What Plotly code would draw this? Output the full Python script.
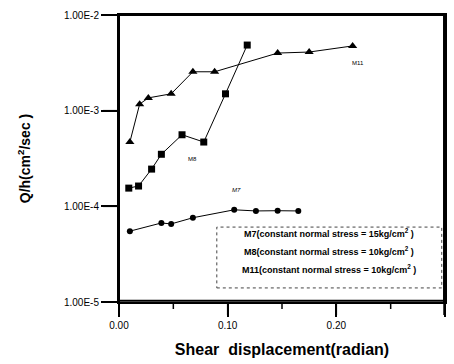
import math
import plotly.graph_objects as go

# Shear displacement (radian) and flow rate Q/h (cm^2/sec)
m7_x = [0.010, 0.039, 0.048, 0.068, 0.106, 0.126, 0.146, 0.165]
m7_y = [5.5e-5, 6.7e-5, 6.55e-5, 7.6e-5, 9.2e-5, 8.95e-5, 9.0e-5, 8.95e-5]

m8_x = [0.009, 0.018, 0.030, 0.039, 0.058, 0.078, 0.098, 0.118]
m8_y = [1.55e-4, 1.63e-4, 2.45e-4, 3.5e-4, 5.6e-4, 4.7e-4, 1.5e-3, 4.85e-3]

m11_x = [0.010, 0.019, 0.027, 0.048, 0.068, 0.088, 0.146, 0.175, 0.215]
m11_y = [4.7e-4, 1.17e-3, 1.36e-3, 1.5e-3, 2.55e-3, 2.55e-3, 4.0e-3, 4.1e-3, 4.75e-3]

y_tickvals = [1e-5, 1e-4, 1e-3, 1e-2]
y_ticktext = ["1.00E-5", "1.00E-4", "1.00E-3", "1.00E-2"]
x_tickvals = [0.0, 0.1, 0.2, 0.3]
x_ticktext = ["0.00", "0.10", "0.20", "0.30"]
x_minor = [0.05, 0.15, 0.25]

legend_lines = [
    "M7(constant normal stress = 15kg/cm<sup>2</sup> )",
    "M8(constant normal stress = 10kg/cm<sup>2</sup> )",
    "M11(constant normal stress = 10kg/cm<sup>2</sup> )",
]

FONT = "Liberation Sans, Arial, sans-serif"
X_RANGE = [0, 0.3]
Y_RANGE = [-5, -2]  # log10 decades
W, H = 454, 364
ML, MR, MT, MB = 119, 7, 15, 62
PW, PH = W - ML - MR, H - MT - MB

fig = go.Figure()
fig.add_trace(go.Scatter(x=m7_x, y=m7_y, mode="lines+markers",
                         line=dict(color="black", width=1),
                         marker=dict(symbol="circle", size=6, color="black")))
fig.add_trace(go.Scatter(x=m8_x, y=m8_y, mode="lines+markers",
                         line=dict(color="black", width=1),
                         marker=dict(symbol="square", size=7, color="black")))
fig.add_trace(go.Scatter(x=m11_x, y=m11_y, mode="lines+markers",
                         line=dict(color="black", width=1),
                         marker=dict(symbol="triangle-up", size=8, color="black")))

# Series labels (annotation y is log10 on a log axis)
fig.add_annotation(x=0.220, y=-2.50, text="M11", showarrow=False,
                   xref="x", yref="y", font=dict(family=FONT, size=6, color="black"))
fig.add_annotation(x=0.068, y=-3.505, text="M8", showarrow=False,
                   xref="x", yref="y", font=dict(family=FONT, size=6, color="black"))
fig.add_annotation(x=0.108, y=-3.83, text="<i>M7</i>", showarrow=False,
                   xref="x", yref="y", font=dict(family=FONT, size=6, color="black"))

# Plot frame, in the lower shape layer
frame = dict(color="black", width=2)
fig.add_shape(type="line", xref="paper", yref="paper", x0=0, x1=0, y0=0, y1=1, line=frame, layer="below")
fig.add_shape(type="line", xref="paper", yref="paper", x0=0, x1=1, y0=1, y1=1, line=frame, layer="below")
fig.add_shape(type="line", xref="paper", yref="paper", x0=0.997, x1=0.997, y0=0, y1=1, line=frame, layer="below")
fig.add_shape(type="line", xref="paper", yref="paper", x0=0, x1=1, y0=0.004, y1=0.004, line=frame, layer="below")


def xfrac(v):
    return (v - X_RANGE[0]) / (X_RANGE[1] - X_RANGE[0])


def yfrac(v):
    return (math.log10(v) - Y_RANGE[0]) / (Y_RANGE[1] - Y_RANGE[0])


# Outward tick marks along the frame
tick = dict(color="black", width=1.5)
for v in x_tickvals:
    f = min(xfrac(v), 0.997)
    fig.add_shape(type="line", xref="paper", yref="paper", x0=f, x1=f,
                  y0=0, y1=-13 / PH, line=tick, layer="below")
for v in x_minor:
    f = xfrac(v)
    fig.add_shape(type="line", xref="paper", yref="paper", x0=f, x1=f,
                  y0=0, y1=-7 / PH, line=tick, layer="below")
for v in y_tickvals:
    f = yfrac(v)
    fig.add_shape(type="line", xref="paper", yref="paper", x0=0, x1=-16 / PW,
                  y0=f, y1=f, line=tick, layer="below")

# Legend box (paper coordinates) with descriptive lines
fig.add_shape(type="rect", xref="paper", yref="paper", x0=0.30, x1=0.99, y0=0.049, y1=0.261,
              line=dict(color="#444", width=1, dash="dot"), fillcolor="white",
              layer="below")
for i, txt in enumerate(legend_lines):
    fig.add_annotation(x=0.645, y=0.212 - i * 0.0625, text="<b>" + txt + "</b>",
                       showarrow=False, xref="paper", yref="paper",
                       font=dict(family=FONT, size=9, color="black"))

fig.update_layout(
    width=W, height=H,
    margin=dict(l=ML, r=MR, t=MT, b=MB),
    showlegend=False,
    paper_bgcolor="white", plot_bgcolor="white",
    font=dict(family=FONT, color="black"),
)
fig.update_xaxes(range=X_RANGE, tickvals=x_tickvals, ticktext=x_ticktext,
                 ticks="outside", ticklen=13, tickwidth=1.5, tickcolor="black",
                 showline=True, linewidth=2, linecolor="black", mirror=True,
                 layer="below traces",
                 showgrid=False, zeroline=False,
                 tickfont=dict(family=FONT, size=10),
                 title=dict(text="<b>Shear  displacement(radian)</b>",
                            font=dict(family=FONT, size=16), standoff=14))
fig.update_yaxes(type="log", range=Y_RANGE, tickvals=y_tickvals, ticktext=y_ticktext,
                 ticks="outside", ticklen=16, tickwidth=1.5, tickcolor="black",
                 showline=True, linewidth=2, linecolor="black", mirror=True,
                 layer="below traces",
                 showgrid=False, zeroline=False,
                 tickfont=dict(family=FONT, size=10),
                 title=dict(text="<b>Q/h(cm<sup>2</sup>/sec )</b>",
                            font=dict(family=FONT, size=14), standoff=30))

fig.write_html("out.html")
